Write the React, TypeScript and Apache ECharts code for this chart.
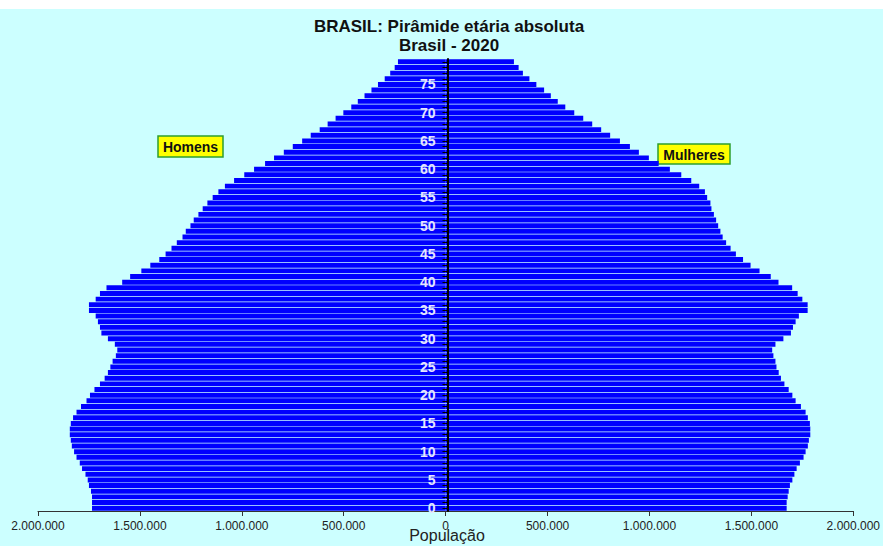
import React, { useEffect, useRef } from "react";
import * as echarts from "echarts";

// Age categories (single years)
const ages: string[] = [
  "0","1","2","3","4","5","6","7","8","9",
  "10","11","12","13","14","15","16","17","18","19",
  "20","21","22","23","24","25","26","27","28","29",
  "30","31","32","33","34","35","36","37","38","39",
  "40","41","42","43","44","45","46","47","48","49",
  "50","51","52","53","54","55","56","57","58","59",
  "60","61","62","63","64","65","66","67","68","69",
  "70","71","72","73","74","75","76","77","78","79",
];

// Homens (thousands), ages 0..79
const homens: number[] = [
  1735, 1735, 1735, 1740, 1750, 1756, 1767, 1784, 1795, 1811,
  1823, 1834, 1839, 1844, 1844, 1839, 1828, 1811, 1789, 1762,
  1745, 1723, 1696, 1673, 1657, 1645, 1634, 1618, 1611, 1623,
  1657, 1689, 1696, 1706, 1717, 1750, 1750, 1717, 1696, 1664,
  1587, 1548, 1493, 1449, 1405, 1374, 1345, 1319, 1291, 1275,
  1252, 1236, 1213, 1192, 1169, 1143, 1115, 1083, 1038, 988,
  940, 886, 842, 794, 750, 704, 662, 618, 579, 540,
  502, 463, 431, 398, 364, 332, 299, 272, 250, 234,
];

// Mulheres (thousands), ages 0..79
const mulheres: number[] = [
  1673, 1673, 1678, 1683, 1689, 1701, 1711, 1722, 1738, 1756,
  1766, 1777, 1782, 1789, 1789, 1787, 1777, 1766, 1743, 1717,
  1701, 1683, 1662, 1645, 1634, 1623, 1618, 1608, 1602, 1618,
  1657, 1694, 1704, 1717, 1733, 1776, 1776, 1750, 1727, 1700,
  1633, 1595, 1540, 1496, 1459, 1424, 1398, 1376, 1359, 1348,
  1337, 1327, 1316, 1304, 1299, 1283, 1272, 1244, 1205, 1156,
  1100, 1045, 997, 948, 904, 855, 807, 763, 719, 675,
  631, 587, 550, 516, 483, 445, 411, 379, 358, 335,
];

const titleLine1 = "BRASIL: Pirâmide etária absoluta";
const titleLine2 = "Brasil - 2020";
const axisName = "População";
const legendMen = "Homens";
const legendWomen = "Mulheres";

const fmt = (v: number): string =>
  String(Math.round(Math.abs(v))).replace(/\B(?=(\d{3})+(?!\d))/g, ".");

const FONT = "'Liberation Sans', Arial, Helvetica, sans-serif";

const GRID_LEFT = 38;
const GRID_RIGHT = 26;
const CHART_W = 883;

export default function App() {
  const ref = useRef<HTMLDivElement>(null);

  useEffect(() => {
    if (!ref.current) return;
    const chart = echarts.init(ref.current, undefined, { renderer: "svg" });
    const gridW = CHART_W - GRID_LEFT - GRID_RIGHT;
    const option: any = {
      animation: false,
      backgroundColor: "#ccffff",
      textStyle: { fontFamily: FONT },
      grid: { left: GRID_LEFT, right: GRID_RIGHT, top: 50, bottom: 35, containLabel: false },
      xAxis: {
        type: "value",
        min: -2000000,
        max: 2000000,
        interval: 500000,
        axisLine: { show: true, onZero: false, lineStyle: { color: "#333333", width: 1 } },
        axisTick: { show: true, length: 5, lineStyle: { color: "#333333" } },
        axisLabel: {
          formatter: (v: number) => fmt(v),
          fontSize: 12,
          color: "#222222",
          margin: 9,
          fontFamily: FONT,
        },
        splitLine: { show: false },
      },
      yAxis: {
        type: "category",
        data: ages,
        position: "left",
        offset: -gridW / 2,
        z: 10,
        axisLine: { show: true, onZero: false, lineStyle: { color: "#000000", width: 2 } },
        axisTick: {
          show: true,
          alignWithLabel: true,
          interval: 0,
          length: 5,
          lineStyle: { color: "#000000" },
        },
        axisLabel: {
          interval: (i: number) => i % 5 === 0,
          color: "#e6e6ff",
          fontSize: 14,
          fontWeight: "bold",
          margin: 12,
          fontFamily: FONT,
        },
        splitLine: { show: false },
      },
      series: [
        {
          name: legendMen,
          type: "bar",
          stack: "pop",
          barCategoryGap: "12%",
          itemStyle: { color: "#0000ff" },
          data: homens.map((v) => -v * 1000),
        },
        {
          name: legendWomen,
          type: "bar",
          stack: "pop",
          barCategoryGap: "12%",
          itemStyle: { color: "#0000ff" },
          data: mulheres.map((v) => v * 1000),
        },
      ],
      graphic: [
        {
          type: "text",
          x: 449,
          y: 17,
          style: {
            text: titleLine1,
            fill: "#111111",
            font: `bold 17px ${FONT}`,
            align: "center",
            verticalAlign: "middle",
          },
        },
        {
          type: "text",
          x: 449,
          y: 36,
          style: {
            text: titleLine2,
            fill: "#111111",
            font: `bold 17px ${FONT}`,
            align: "center",
            verticalAlign: "middle",
          },
        },
        {
          type: "text",
          x: 447,
          y: 526,
          style: {
            text: axisName,
            fill: "#222222",
            font: `16px ${FONT}`,
            align: "center",
            verticalAlign: "middle",
          },
        },
        {
          type: "group",
          x: 158,
          y: 127,
          z: 20,
          children: [
            {
              type: "rect",
              shape: { x: 0, y: 0, width: 65, height: 21 },
              style: { fill: "#ffff00", stroke: "#2e9e2e", lineWidth: 1.5 },
            },
            {
              type: "text",
              x: 32.5,
              y: 11,
              style: {
                text: legendMen,
                fill: "#111111",
                font: `bold 14px ${FONT}`,
                align: "center",
                verticalAlign: "middle",
              },
            },
          ],
        },
        {
          type: "group",
          x: 658,
          y: 135,
          z: 20,
          children: [
            {
              type: "rect",
              shape: { x: 0, y: 0, width: 72, height: 20 },
              style: { fill: "#ffff00", stroke: "#2e9e2e", lineWidth: 1.5 },
            },
            {
              type: "text",
              x: 36,
              y: 10.5,
              style: {
                text: legendWomen,
                fill: "#111111",
                font: `bold 14px ${FONT}`,
                align: "center",
                verticalAlign: "middle",
              },
            },
          ],
        },
      ],
    };
    chart.setOption(option);
    return () => chart.dispose();
  }, []);

  return (
    <div
      style={{
        position: "fixed",
        left: 0,
        top: 0,
        width: 883,
        height: 546,
        background: "#ffffff",
      }}
    >
      <div
        ref={ref}
        style={{ position: "absolute", left: 0, top: 9, width: 883, height: 537 }}
      />
    </div>
  );
}
